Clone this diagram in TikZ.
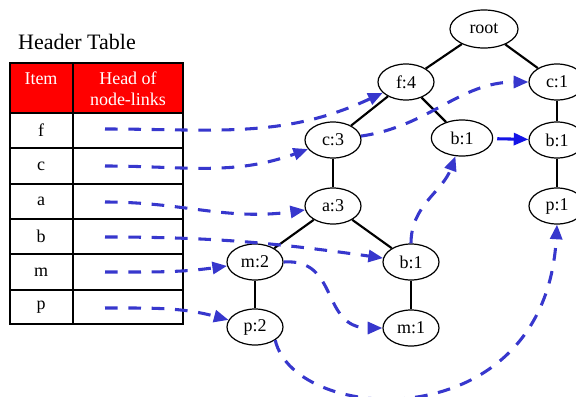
\documentclass[tikz,border=0pt]{standalone}
\usepackage{fontspec}
\setmainfont{Liberation Serif}
\usetikzlibrary{shapes.geometric,arrows.meta}
\definecolor{linkblue}{RGB}{55,55,205}
\definecolor{hdrred}{RGB}{255,0,0}
\definecolor{brightblue}{RGB}{20,20,230}
\begin{document}
\begin{tikzpicture}[x=0.75pt,y=-0.75pt,
  tnode/.style={ellipse,draw,line width=0.9pt,minimum width=42pt,minimum height=27pt,inner sep=0pt,font=\fontsize{13.5}{15}\selectfont},
  tedge/.style={line width=1.6pt},
  link/.style={draw=linkblue,line width=2.3pt,dash pattern=on 9.5pt off 8pt,-{Triangle[length=11pt,width=9pt]}},
  cell/.style={font=\fontsize{13.5}{15}\selectfont,inner sep=0pt},
  hdr/.style={font=\fontsize{13.5}{15.75}\selectfont,text=white,inner sep=0pt,align=center}]
\useasboundingbox (0,0) rectangle (576,397);

% header table
\node[font=\fontsize{16.5}{19}\selectfont,inner sep=0pt] (title) at (77,42) {Header Table};
\fill[hdrred] (10,63) rectangle (183,113);
\foreach \y in {148,184,219,254,290} \draw[line width=1pt] (10,\y) -- (183,\y);
\draw[line width=1.8pt] (10,113) -- (183,113);
\draw[line width=1.3pt] (73,63) -- (73,324);
\draw[line width=2pt] (10,63) rectangle (183,324);
\node[hdr,anchor=base] (hitem) at (41,84) {Item};
\node[hdr] (hhead) at (128,89) {Head of\\node-links};
\node[cell] (rf) at (41,130) {f};
\node[cell] (rc) at (41,166) {c};
\node[cell] (ra) at (41,201) {a};
\node[cell] (rb) at (41,236) {b};
\node[cell] (rm) at (41,272) {m};
\node[cell] (rp) at (41,307) {p};
\coordinate (sf) at (105,129);
\coordinate (sc) at (105,166);
\coordinate (sa) at (105,202);
\coordinate (sb) at (105,237);
\coordinate (sm) at (105,272);
\coordinate (sp) at (105,308);

% tree
\node[tnode,minimum width=51pt,minimum height=28.5pt] (root) at (484,29) {root};
\node[tnode] (f4) at (406,82) {f:4};
\node[tnode] (c1) at (557,82) {c:1};
\node[tnode] (c3) at (333,140) {c:3};
\node[tnode,minimum width=46pt] (b1m) at (462,138) {b:1};
\node[tnode] (b1r) at (557,140) {b:1};
\node[tnode] (a3) at (333,206) {a:3};
\node[tnode] (p1) at (557,206) {p:1};
\node[tnode] (m2) at (255,262) {m:2};
\node[tnode] (b1l) at (411,262) {b:1};
\node[tnode] (p2) at (255,327) {p:2};
\node[tnode] (m1) at (411,328) {m:1};

\draw[tedge] (root) -- (f4);
\draw[tedge] (root) -- (c1);
\draw[tedge] (f4) -- (c3);
\draw[tedge] (f4) -- (b1m);
\draw[tedge] (c3) -- (a3);
\draw[tedge] (a3) -- (m2);
\draw[tedge] (a3) -- (b1l);
\draw[tedge] (m2) -- (p2);
\draw[tedge] (b1l) -- (m1);
\draw[tedge] (c1) -- (b1r);
\draw[tedge] (b1r) -- (p1);

% node links
\draw[link] (sf) to[out=0,in=205] (f4);
\draw[link] (sc) to[out=0,in=200] (c3);
\draw[link] (sa) to[out=0,in=188] (a3);
\draw[link] (sb) to[out=0,in=172] (b1l);
\draw[link] (sm) to[out=0,in=188] (m2);
\draw[link] (sp) to[out=0,in=165] (p2);
\draw[link] (c3) to[out=8,in=180] (c1);
\draw[link,draw=brightblue,solid,shorten <=3pt] (b1m) -- (b1r);
\draw[link] (b1l.north) to[out=90,in=250] (b1m);
\draw[link] (m2.east) .. controls (340,258) and (320,328) .. (m1.west);
\draw[link] (p2.south east) .. controls (295,425) and (545,440) .. (p1.south);
\end{tikzpicture}
\end{document}
